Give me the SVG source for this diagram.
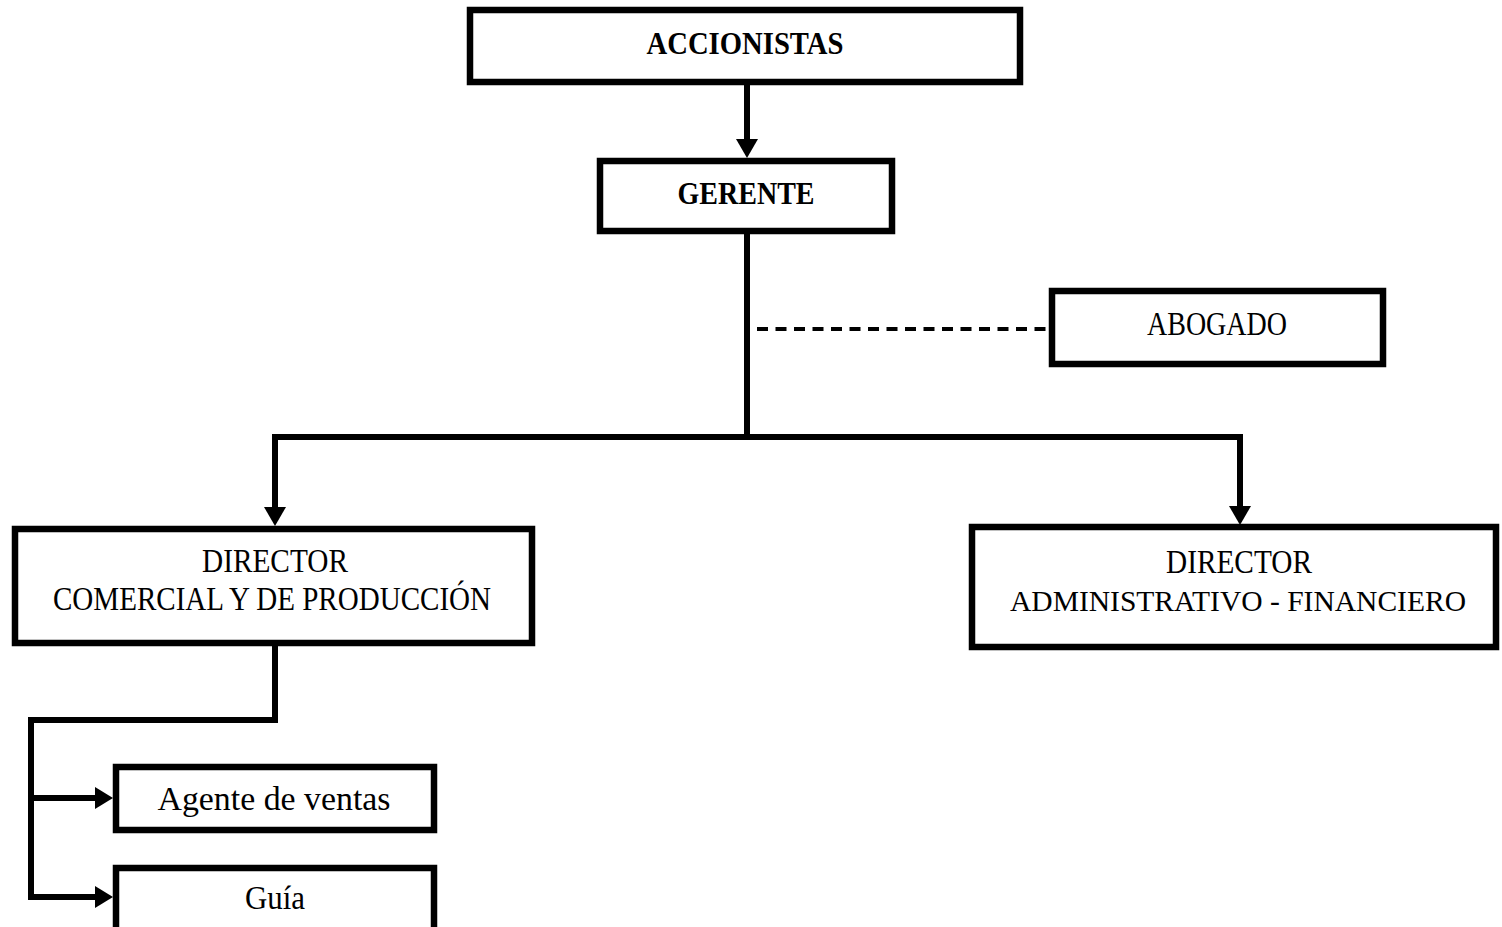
<svg xmlns="http://www.w3.org/2000/svg" width="1502" height="927" viewBox="0 0 1502 927">
  <style>
    .box { fill: #ffffff; stroke: #000000; stroke-width: 6.5; }
    .lbl { font-family: "Liberation Serif", "Times New Roman", serif; font-size: 33px; fill: #000000; text-anchor: middle; }
    .bold { font-weight: bold; font-size: 32px; }
    .small { font-size: 30px; }
    .wire { fill: none; stroke: #000000; stroke-width: 6; stroke-linecap: square; stroke-linejoin: miter; }
    .dash { fill: none; stroke: #000000; stroke-width: 4; stroke-dasharray: 11 7.5; }
    .head { fill: #000000; }
  </style>
  <rect x="0" y="0" width="1502" height="927" fill="#ffffff"/>

  <!-- connectors -->
  <g id="connectors">
    <line class="wire" x1="747" y1="88" x2="747" y2="140"/>
    <polygon class="head" points="736,139 758,139 747,158"/>
    <polyline class="wire" points="747,237 747,437"/>
    <polyline class="wire" points="275,508 275,437 1240,437 1240,508"/>
    <polygon class="head" points="264,507 286,507 275,526"/>
    <polygon class="head" points="1229,506 1251,506 1240,525"/>
    <line class="dash" x1="757" y1="329" x2="1048" y2="329"/>
    <polyline class="wire" points="275,649 275,720 31,720 31,897 96,897"/>
    <line class="wire" x1="31" y1="798" x2="96" y2="798"/>
    <polygon class="head" points="95,787 95,809 113,798"/>
    <polygon class="head" points="95,886 95,908 113,897"/>
  </g>

  <g id="accionistas">
    <rect class="box" x="470" y="10" width="550" height="72"/>
    <text class="lbl bold" x="745" y="54" textLength="197" lengthAdjust="spacingAndGlyphs">ACCIONISTAS</text>
  </g>

  <g id="gerente">
    <rect class="box" x="600" y="161" width="292" height="70"/>
    <text class="lbl bold" x="746" y="204" textLength="137" lengthAdjust="spacingAndGlyphs">GERENTE</text>
  </g>

  <g id="abogado">
    <rect class="box" x="1052" y="291" width="331" height="73"/>
    <text class="lbl" x="1217" y="335" textLength="140" lengthAdjust="spacingAndGlyphs">ABOGADO</text>
  </g>

  <g id="director-comercial">
    <rect class="box" x="15" y="529" width="517" height="114"/>
    <text class="lbl" x="275" y="572" textLength="146" lengthAdjust="spacingAndGlyphs">DIRECTOR</text>
    <text class="lbl" x="272" y="610" textLength="438" lengthAdjust="spacingAndGlyphs">COMERCIAL Y DE PRODUCCIÓN</text>
  </g>

  <g id="director-administrativo">
    <rect class="box" x="972" y="527" width="524" height="120"/>
    <text class="lbl" x="1239" y="573" textLength="146" lengthAdjust="spacingAndGlyphs">DIRECTOR</text>
    <text class="lbl small" x="1238" y="611" textLength="456" lengthAdjust="spacingAndGlyphs">ADMINISTRATIVO - FINANCIERO</text>
  </g>

  <g id="agente-ventas">
    <rect class="box" x="116" y="767" width="318" height="63"/>
    <text class="lbl" x="274" y="810" textLength="233" lengthAdjust="spacingAndGlyphs">Agente de ventas</text>
  </g>

  <g id="guia">
    <rect class="box" x="116" y="868" width="318" height="70"/>
    <text class="lbl" x="275" y="909" textLength="60" lengthAdjust="spacingAndGlyphs">Guía</text>
  </g>
</svg>
